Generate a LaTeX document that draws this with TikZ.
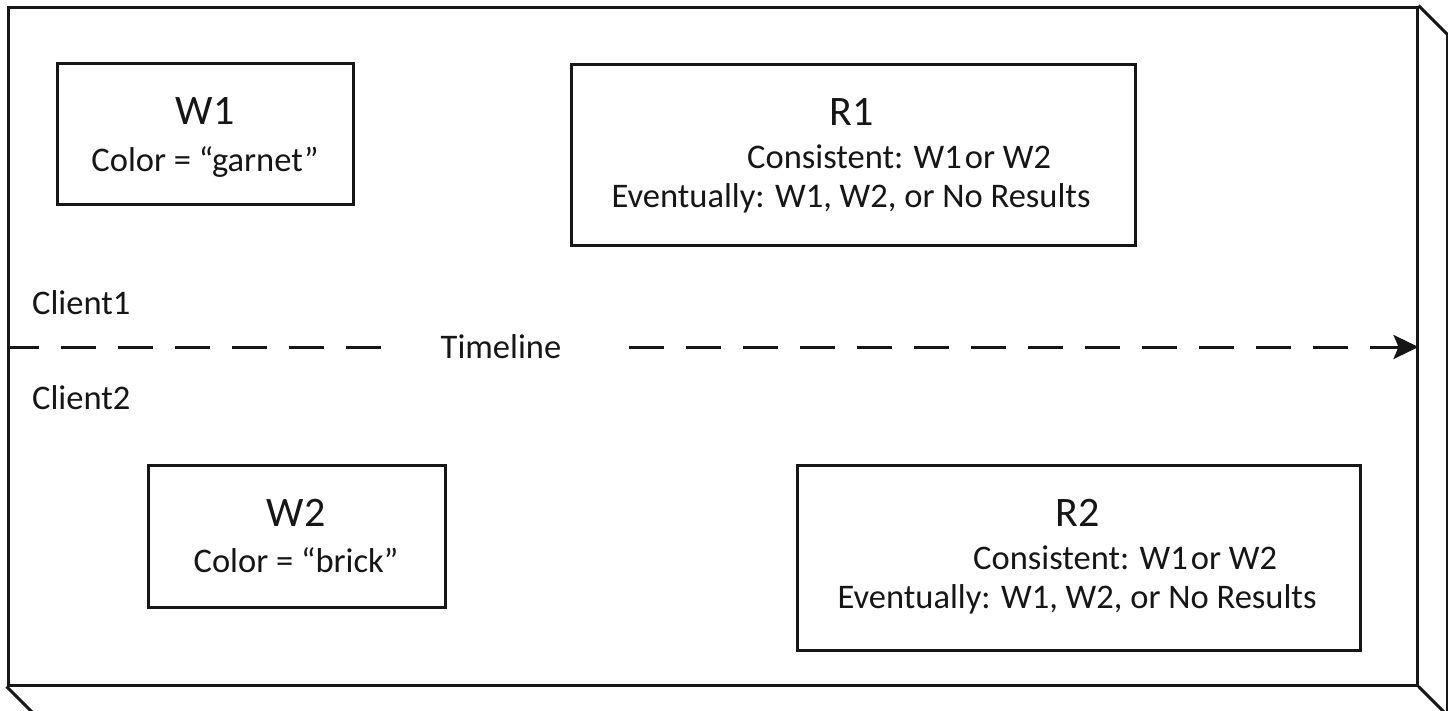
\documentclass[tikz,border=0pt]{standalone}
\usepackage{fontspec}
\setmainfont{Carlito}
\usetikzlibrary{arrows.meta}
\definecolor{ink}{RGB}{22,22,22}
\begin{document}
\begin{tikzpicture}[x=1pt,y=-1pt,
  box/.style={draw=ink, line width=3pt, inner sep=0pt},
  title/.style={anchor=base, font=\fontsize{42}{48}\selectfont, text=ink, inner sep=0pt},
  body/.style={anchor=base, font=\fontsize{34.5}{40}\selectfont, text=ink, inner sep=0pt},
  edge/.style={draw=ink, line width=3pt},
  tline/.style={draw=ink, line width=3pt, dash pattern=on 35pt off 22pt}]
\useasboundingbox (0,0) rectangle (1448,710);
\clip (0,0) rectangle (1448,710);
\fill[white] (0,0) rectangle (1448,710);

% outer 3D frame
\node[box, minimum width=1409pt, minimum height=678pt] (frame) at (712.5,346) {};
\draw[edge] (frame.north east) -- ++(29,29) -- ++(0,720);
\draw[edge] (frame.south east) -- ++(29,29);
\draw[edge] (frame.south west) -- ++(29,29);

% boxes
\node[box, minimum width=296pt, minimum height=141pt] (w1) at (205,133.5) {};
\node[box, minimum width=564pt, minimum height=181pt] (r1) at (853,154.5) {};
\node[box, minimum width=297pt, minimum height=142pt] (w2) at (296.5,536) {};
\node[box, minimum width=563pt, minimum height=185pt] (r2) at (1078.5,557.5) {};

% W1
\node[title] (w1t) at (205,124) {W1};
\node[body] (w1b) at (205,171) {Color = “garnet”};
% W2
\node[title] (w2t) at (296,526) {W2};
\node[body] (w2b) at (296,572) {Color = “brick”};
% R1
\node[title] (r1t) at (852,125) {R1};
\node[body, anchor=base west] (r1c) at (747,168) {Consistent: W1\hspace{3pt}or W2};
\node[body] (r1e) at (851,207) {Eventually: W1, W2, or No Results};
% R2
\node[title] (r2t) at (1078,526) {R2};
\node[body, anchor=base west] (r2c) at (973,569) {Consistent: W1\hspace{3pt}or W2};
\node[body] (r2e) at (1077,608) {Eventually: W1, W2, or No Results};

% clients
\node[body, anchor=base west] (c1) at (32,314) {Client1};
\node[body, anchor=base west] (c2) at (32,409) {Client2};

% timeline
\node[body] (tl) at (501,358) {Timeline};
\coordinate (tlA) at (385,347);
\coordinate (tlB) at (629,347);
\draw[tline, dash phase=3pt] (frame.west |- tlA) -- (tlA);
\draw[tline, -{Stealth[length=25pt,width=24pt,inset=5pt]}] (tlB) -- (frame.east |- tlB);
\end{tikzpicture}
\end{document}
